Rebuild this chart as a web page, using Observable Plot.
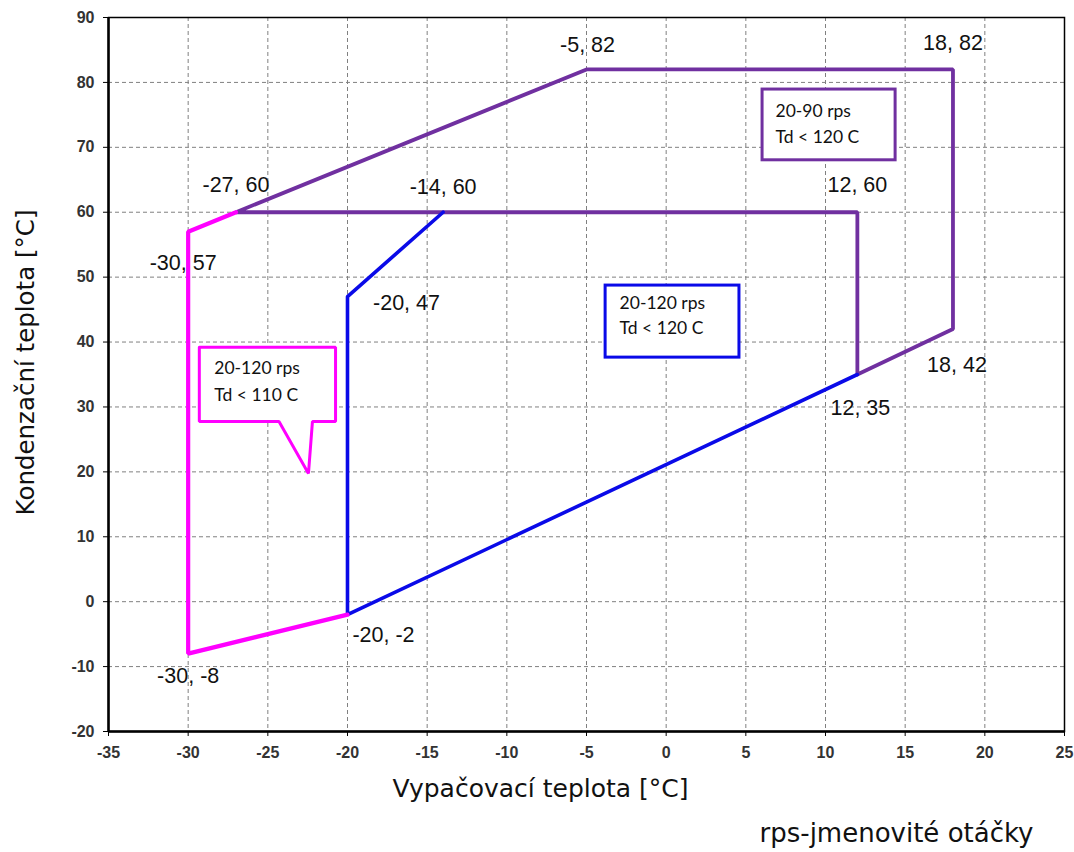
<!DOCTYPE html>
<html>
<head>
<meta charset="utf-8">
<script src="https://cdn.jsdelivr.net/npm/d3@7"></script>
<script src="https://cdn.jsdelivr.net/npm/@observablehq/plot@0.6"></script>
<style>
  html, body { margin: 0; padding: 0; background: #fff; }
  svg { display: block; }
</style>
</head>
<body>
<div id="chart"></div>
<script>
// ---- data ----
const xTicks = [-35, -30, -25, -20, -15, -10, -5, 0, 5, 10, 15, 20, 25];
const yTicks = [-20, -10, 0, 10, 20, 30, 40, 50, 60, 70, 80, 90];

// envelope 20-120 rps, Td < 110 C (magenta)
const magentaX = [-27, -30, -30, -20];
const magentaY = [60, 57, -8, -2];
// envelope 20-120 rps, Td < 120 C (blue)
const blueX = [-14, -20, -20, 12];
const blueY = [60, 47, -2, 35];
// envelope 20-90 rps, Td < 120 C (purple)
const purpleX = [12, 12, -27, -5, 18, 18, 12];
const purpleY = [35, 60, 60, 82, 82, 42, 35];

// labelled corner points
const pointX = [-5, 18, -27, -14, 12, -30, -20, 18, 12, -20, -30];
const pointY = [82, 82, 60, 60, 60, 57, 47, 42, 35, -2, -8];

// annotation texts
const purpleNote = ["20-90 rps", "Td < 120 C"];
const blueNote = ["20-120 rps", "Td < 120 C"];
const magentaNote = ["20-120 rps", "Td < 110 C"];

const xTitle = "Vypačovací teplota [°C]";
const yTitle = "Kondenzační teplota [°C]";
const caption = "rps-jmenovité otáčky";

// ---- layout (not data) ----
const labelDx = [1, 0, 0, 0, 0, -5, 59, 4, 3, 36, 0];
const labelDy = [-24, -26, -27, -25, -27, 31, 7, 36, 34, 20, 23];

// note boxes in chart units
const purpleBox = {x1: 6.05, x2: 14.4, y1: 68.0, y2: 78.9};
const blueBox = {x1: -3.8, x2: 4.6, y1: 37.6, y2: 48.7};
const magentaCallout = [
  {x: -29.3, y: 39.2}, {x: -20.75, y: 39.2}, {x: -20.75, y: 27.75},
  {x: -22.2, y: 27.75}, {x: -22.45, y: 19.75}, {x: -24.3, y: 27.75},
  {x: -29.3, y: 27.75}, {x: -29.3, y: 39.2}
];

const C_MAG = "#ff00ff", C_BLUE = "#0a0ae8", C_PUR = "#7030a0";

const pts = (xs, ys) => xs.map((x, i) => ({x, y: ys[i]}));

const noteFont = "Lato, 'Open Sans', sans-serif";
const titleFont = "'DejaVu Sans', Verdana, sans-serif";
const labelFont = "'Liberation Sans', Arial, sans-serif";

function noteText(box, lines, dx, dy1, dy2) {
  return lines.map((line, i) =>
    Plot.text([line], {x: () => box.x1, y: () => box.y2, text: d => d, textAnchor: "start", lineAnchor: "middle",
      dx, dy: i === 0 ? dy1 : dy2, fontSize: 17.5, fontWeight: "normal", fontFamily: noteFont, fill: "#111"})
  );
}

const pointLabels = pointX.map((x, i) =>
  Plot.text([{x, y: pointY[i]}], {x: "x", y: "y", text: d => `${d.x}, ${d.y}`,
    dx: labelDx[i], dy: labelDy[i], fontSize: 21.5, fontWeight: "normal", fill: "#111", fontFamily: labelFont})
);

const chart = Plot.plot({
  width: 1074,
  height: 852,
  marginLeft: 108,
  marginRight: 10,
  marginTop: 17,
  marginBottom: 121,
  x: {domain: [-35, 25], ticks: xTicks},
  y: {domain: [-20, 90], ticks: yTicks},
  style: {fontFamily: labelFont, fontSize: "16px", background: "#fff", color: "#111"},
  marks: [
    Plot.gridX(xTicks, {stroke: "#808080", strokeOpacity: 1, strokeDasharray: "4,3", strokeWidth: 1}),
    Plot.gridY(yTicks, {stroke: "#808080", strokeOpacity: 1, strokeDasharray: "4,3", strokeWidth: 1}),
    Plot.frame({stroke: "#000", strokeWidth: 1.5}),
    Plot.ruleX([xTicks[0]], {stroke: "#000", strokeWidth: 2.5}),
    Plot.ruleY([yTicks[0]], {stroke: "#000", strokeWidth: 2.5}),
    Plot.axisX(xTicks, {tickSize: 5, tickPadding: 10, label: null, tickFormat: d => String(d),
      fontSize: 16, fontWeight: "bold", stroke: "#000", fill: "#333", fontFamily: labelFont}),
    Plot.axisY(yTicks, {tickSize: 5, tickPadding: 9, label: null, tickFormat: d => String(d),
      fontSize: 16, fontWeight: "bold", stroke: "#000", fill: "#333", fontFamily: labelFont}),

    Plot.line(pts(purpleX, purpleY), {x: "x", y: "y", stroke: C_PUR, strokeWidth: 3.8, strokeLinejoin: "miter"}),
    Plot.line(pts(blueX, blueY), {x: "x", y: "y", stroke: C_BLUE, strokeWidth: 3.6, strokeLinejoin: "miter"}),
    Plot.line(pts(magentaX, magentaY), {x: "x", y: "y", stroke: C_MAG, strokeWidth: 4.2, strokeLinejoin: "miter"}),

    // note boxes
    Plot.rect([purpleBox], {x1: "x1", x2: "x2", y1: "y1", y2: "y2", fill: "#fff", stroke: C_PUR, strokeWidth: 3}),
    Plot.rect([blueBox], {x1: "x1", x2: "x2", y1: "y1", y2: "y2", fill: "#fff", stroke: C_BLUE, strokeWidth: 3}),
    Plot.line(magentaCallout, {x: "x", y: "y", fill: "#fff", stroke: C_MAG, strokeWidth: 3, strokeLinejoin: "miter"}),
    ...noteText(purpleBox, purpleNote, 13, 22, 48),
    ...noteText(blueBox, blueNote, 14, 18, 43),
    ...noteText({x1: magentaCallout[0].x, y2: magentaCallout[0].y}, magentaNote, 15, 21, 48),

    // corner point labels
    ...pointLabels,

    // titles
    Plot.text([xTitle], {frameAnchor: "bottom", textAnchor: "middle", lineAnchor: "middle", dx: -46, dy: 57,
      fontSize: 25, fontWeight: "normal", fontFamily: titleFont, fill: "#111"}),
    Plot.text([yTitle], {frameAnchor: "left", textAnchor: "middle", lineAnchor: "middle", dx: -82, dy: -12, rotate: -90,
      fontSize: 24.5, fontWeight: "normal", fontFamily: titleFont, fill: "#111"}),
    Plot.text([caption], {frameAnchor: "bottom", textAnchor: "middle", lineAnchor: "middle", dx: 310, dy: 102,
      fontSize: 26, fontWeight: "normal", fontFamily: titleFont, fill: "#111"})
  ]
});

document.getElementById("chart").append(chart);
</script>
</body>
</html>
